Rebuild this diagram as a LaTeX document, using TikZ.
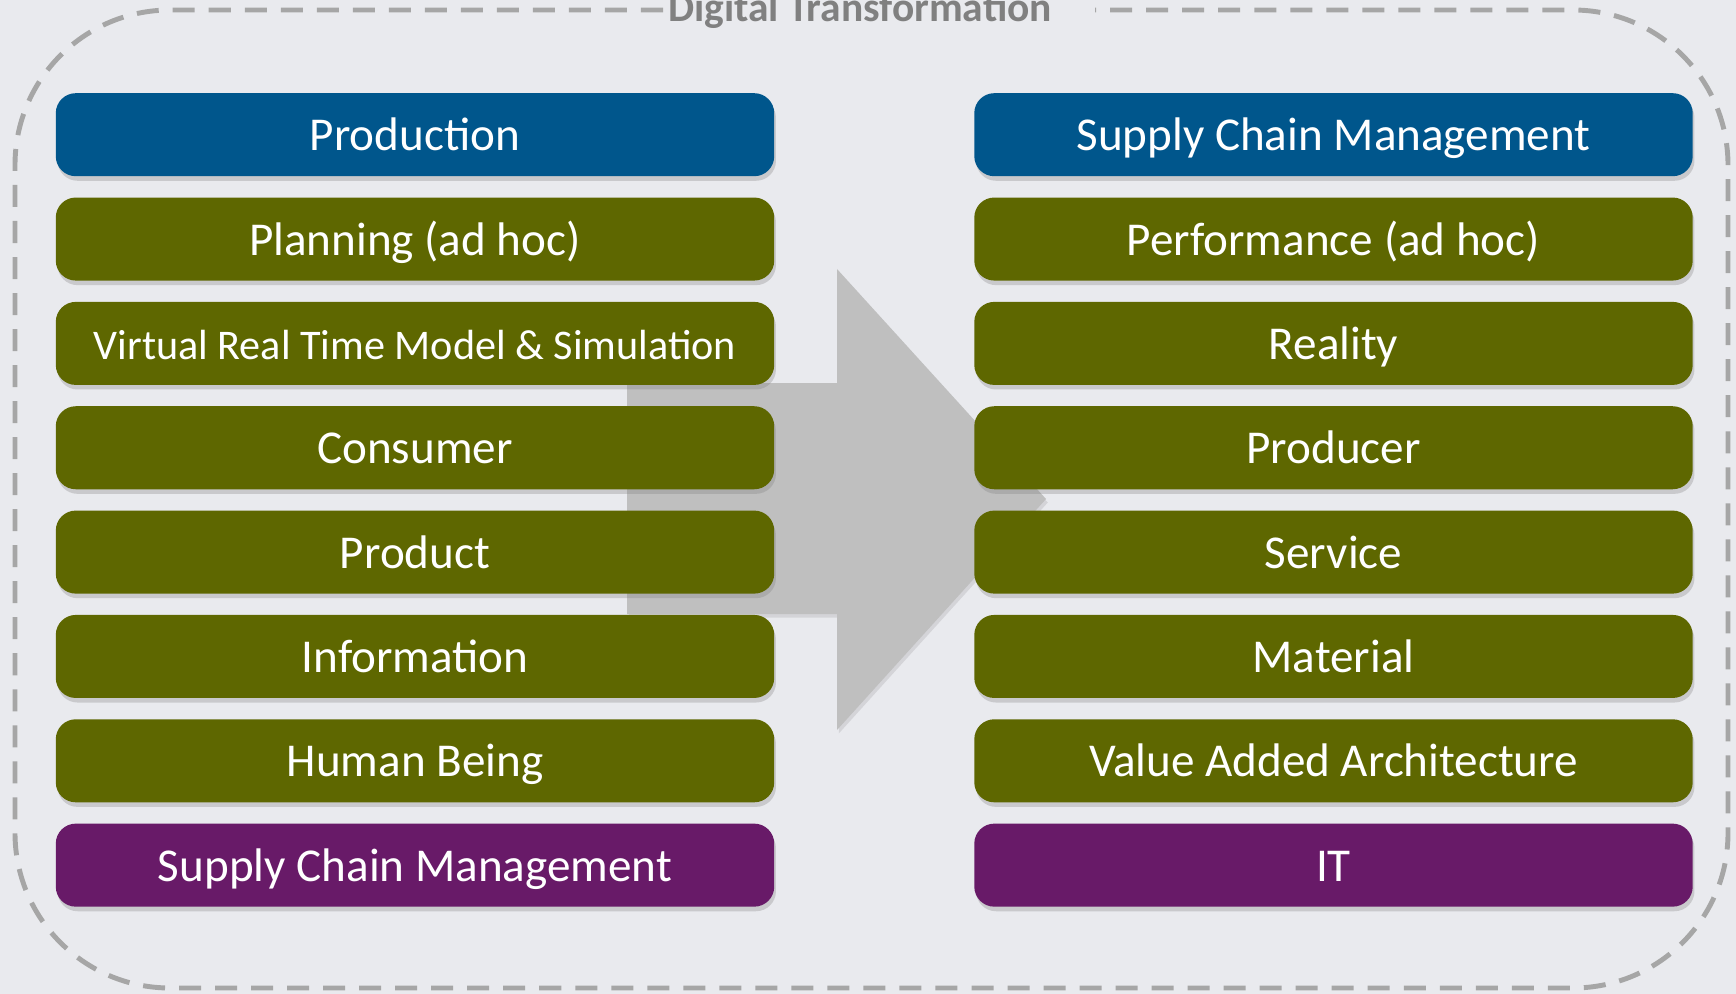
\documentclass[tikz,border=0pt]{standalone}
\usepackage{fontspec}
\setmainfont{Carlito}
\usepackage{tikz}
\usetikzlibrary{shapes}
\usetikzlibrary{shadows}
\usetikzlibrary{positioning}
\definecolor{bgcol}{RGB}{233,234,238}
\definecolor{prodblue}{RGB}{0,86,140}
\definecolor{leafgreen}{RGB}{94,103,0}
\definecolor{plum}{RGB}{104,26,104}
\definecolor{arrowgray}{RGB}{191,191,191}
\definecolor{framegray}{RGB}{166,166,166}
\definecolor{titlegray}{RGB}{128,128,128}

\begin{document}
\begin{tikzpicture}[x=0.01cm, y=-0.01cm, node distance=1.0429cm,
    box/.style={rounded corners=0.2cm, minimum width=7.18cm, minimum height=0.83cm,
        inner sep=0pt, text height=9.2pt, text depth=0pt, text=white,
        font=\fontsize{13.4}{16}\selectfont,
        drop shadow={shadow xshift=0.5pt, shadow yshift=-1.3pt, opacity=0.3}},
    bluebox/.style={box, fill=prodblue},
    greenbox/.style={box, fill=leafgreen},
    plumbox/.style={box, fill=plum}]
        % Background and frame
        \fill[bgcol] (0,0) rectangle (1736,994);
        \useasboundingbox (0,0) rectangle (1736,994);
        \draw[framegray, line width=1.4pt, dash pattern=on 0.22cm off 0.14cm, rounded corners=1.55cm]
            (663,10) -- (15,10) -- (15,988) -- (1728,988) -- (1728,10) -- (1095,10);
        \node[text=titlegray, anchor=base, inner sep=0pt, font=\fontsize{11.8}{14}\selectfont\bfseries]
            (title) at (860,22) {Digital Transformation};

        % Big arrow behind the boxes
        \fill[arrowgray, drop shadow={shadow xshift=0.5pt, shadow yshift=-1pt, opacity=0.2}]
            (627,383) -- (837,383) -- (837,269) -- (1046,499) -- (837,730) -- (837,614) -- (627,614) -- cycle;

        % Left column
        \node[bluebox] (prod) at (415,134.7) {Production};
        \node[greenbox, below of=prod] (plan) {Planning (ad hoc)};
        \node[greenbox, below of=plan, font=\fontsize{12}{14}\selectfont] (virt) {Virtual Real Time Model \& Simulation};
        \node[greenbox, below of=virt] (cons) {Consumer};
        \node[greenbox, below of=cons] (prdt) {Product};
        \node[greenbox, below of=prdt] (info) {Information};
        \node[greenbox, below of=info] (human) {Human Being};
        \node[plumbox, below of=human] (scmL) {Supply Chain Management};

        % Right column
        \node[bluebox] (scmR) at (1333.5,134.7) {Supply Chain Management};
        \node[greenbox, below of=scmR] (perf) {Performance (ad hoc)};
        \node[greenbox, below of=perf] (real) {Reality};
        \node[greenbox, below of=real] (prodr) {Producer};
        \node[greenbox, below of=prodr] (serv) {Service};
        \node[greenbox, below of=serv] (matl) {Material};
        \node[greenbox, below of=matl] (vaa) {Value Added Architecture};
        \node[plumbox, below of=vaa] (it) {IT};
\end{tikzpicture}
\end{document}
